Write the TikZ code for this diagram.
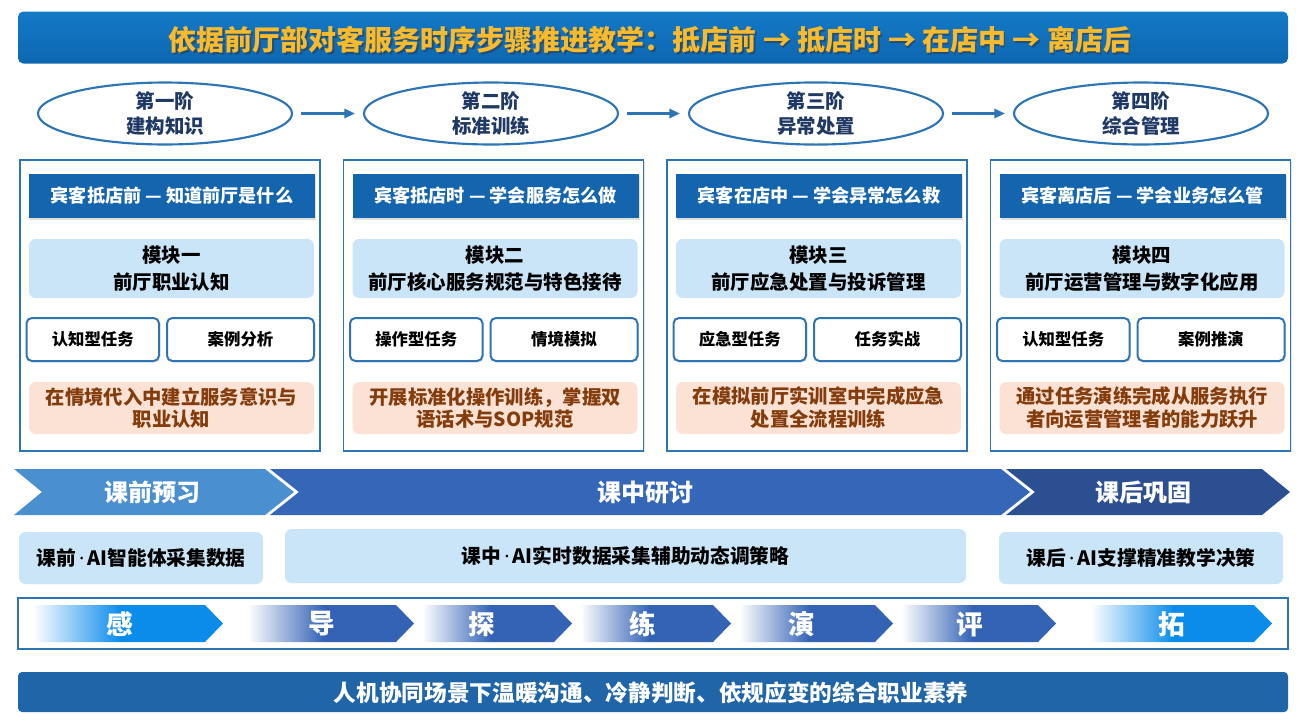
\documentclass[tikz,border=0pt]{standalone}
\usepackage{fontspec}
\setmainfont{Noto Sans CJK SC}
\newfontfamily\latf{Noto Sans}
\usetikzlibrary{shapes.geometric,arrows.meta,shadows}
\definecolor{titletop}{HTML}{1479C6}
\definecolor{titlebot}{HTML}{0D67B0}
\definecolor{titlefg}{HTML}{F9BA2C}
\definecolor{titleshadow}{HTML}{2A3A55}
\definecolor{ellblue}{HTML}{2E75B6}
\definecolor{navy}{HTML}{1F3864}
\definecolor{hdrblue}{HTML}{1464AE}
\definecolor{lightblue}{HTML}{C9E5F7}
\definecolor{salmon}{HTML}{FBE2D5}
\definecolor{browntxt}{HTML}{843C0C}
\definecolor{chevA}{HTML}{4A8FD0}
\definecolor{chevB}{HTML}{3566B8}
\definecolor{chevC}{HTML}{2C4F91}
\definecolor{azure}{HTML}{0B8CEB}
\definecolor{royal}{HTML}{3463B6}
\definecolor{bottombg}{HTML}{1F65A8}
\pgfdeclarehorizontalshading{fadeaz}{100bp}{color(0bp)=(white); color(27bp)=(white); color(49bp)=(azure); color(100bp)=(azure)}
\pgfdeclarehorizontalshading{faderoyal}{100bp}{color(0bp)=(white); color(27bp)=(white); color(49bp)=(royal); color(100bp)=(royal)}
\newcommand\pxu{0.75pt}
\newcommand\mdot{{\latf\bfseries\,·\,}}
\tikzset{
  ell/.style={ellipse, draw=ellblue, line width=1.6pt, fill=white, minimum width=254*\pxu, minimum height=59*\pxu, inner sep=0pt, text=navy, align=center, font=\bfseries\fontsize{14.6}{18.8}\selectfont},
  flowarr/.style={draw=ellblue, line width=1.6pt, -{Triangle[length=8pt,width=7pt]}, shorten <=6pt, shorten >=6pt},
  panelbox/.style={draw=ellblue, line width=1.1pt, fill=white, inner sep=0pt, drop shadow={shadow xshift=1pt,shadow yshift=-1pt,opacity=0.2}},
  hdr/.style={fill=hdrblue, text=white, inner sep=0pt, drop shadow={shadow xshift=1pt,shadow yshift=-1.5pt,opacity=0.25}, font=\bfseries\fontsize{13.6}{15}\selectfont},
  modbox/.style={fill=lightblue, rounded corners=5pt, inner sep=0pt, align=center, text=black, font=\bfseries\fontsize{14.6}{20}\selectfont},
  taskbox/.style={draw=ellblue, line width=1.5pt, fill=white, rounded corners=4pt, inner sep=0pt, text=black, drop shadow={shadow xshift=1pt,shadow yshift=-1pt,opacity=0.2}, font=\bfseries\fontsize{12.3}{15}\selectfont},
  goalbox/.style={fill=salmon, rounded corners=5pt, inner sep=0pt, text=browntxt, align=center, font=\bfseries\fontsize{14.5}{17.2}\selectfont},
  bandtxt/.style={text=white, inner sep=0pt, font=\bfseries\fontsize{18}{20}\selectfont},
  aibox/.style={fill=lightblue, rounded corners=5pt, inner sep=0pt, text=black, font=\bfseries\fontsize{14.8}{17}\selectfont},
  proctxt/.style={text=white, inner sep=0pt, font=\bfseries\fontsize{20}{22}\selectfont},
  titlestyle/.style={inner sep=0pt, font=\bfseries\fontsize{21}{24}\selectfont},
}
\newcommand\fpanel[9]{%
  \node[panelbox, minimum width=300*\pxu, minimum height=291*\pxu] (#1) at (#2+150,305.5) {};
  \node[hdr, minimum width=286*\pxu, minimum height=44*\pxu] (#1h) at (#2+152,196) {#3};
  \node[modbox, minimum width=285*\pxu, minimum height=59*\pxu] (#1m) at (#2+151.5,268.5) {#4\\#5};
  \node[taskbox, minimum width=132.5*\pxu, minimum height=43*\pxu] (#1a) at (#2+72.75,339.5) {#6};
  \node[taskbox, minimum width=147*\pxu, minimum height=43*\pxu] (#1b) at (#2+220.5,339.5) {#7};
  \node[goalbox, minimum width=285*\pxu, minimum height=52*\pxu] (#1s) at (#2+151.5,408) {#8\\#9};
}
\newcommand\chevshape[3]{%
  \shade[shading=#3] (#1,605) -- (#2-18,605) -- (#2,623.5) -- (#2-18,642) -- (#1,642) -- cycle;
}
\begin{document}
\begin{tikzpicture}[x=0.75pt,y=-0.75pt]
\useasboundingbox (0,0) rectangle (1308,722);
\fill[white] (0,0) rectangle (1308,722);

% title
\node[top color=titletop, bottom color=titlebot, rounded corners=4pt, minimum width=1270*\pxu, minimum height=52*\pxu, inner sep=0pt] (title) at (653,37.5) {};
\node[titlestyle, text=titleshadow, opacity=0.6] (titleshd) at (651.5,41.5) {依据前厅部对客服务时序步骤推进教学：抵店前 → 抵店时 → 在店中 → 离店后};
\node[titlestyle, text=titlefg] (titletxt) at (650,40) {依据前厅部对客服务时序步骤推进教学：抵店前 → 抵店时 → 在店中 → 离店后};

% stages
\node[ell] (e1) at (165,113.5) {第一阶\\建构知识};
\node[ell] (e2) at (491,113.5) {第二阶\\标准训练};
\node[ell] (e3) at (816,113.5) {第三阶\\异常处置};
\node[ell] (e4) at (1141,113.5) {第四阶\\综合管理};
\draw[flowarr] (e1) -- (e2);
\draw[flowarr] (e2) -- (e3);
\draw[flowarr] (e3) -- (e4);

% panels
\fpanel{p1}{20}{宾客抵店前 — 知道前厅是什么}{模块一}{前厅职业认知}{认知型任务}{案例分析}{在情境代入中建立服务意识与}{职业认知}
\fpanel{p2}{343.5}{宾客抵店时 — 学会服务怎么做}{模块二}{前厅核心服务规范与特色接待}{操作型任务}{情境模拟}{开展标准化操作训练，掌握双}{语话术与SOP规范}
\fpanel{p3}{667}{宾客在店中 — 学会异常怎么救}{模块三}{前厅应急处置与投诉管理}{应急型任务}{任务实战}{在模拟前厅实训室中完成应急}{处置全流程训练}
\fpanel{p4}{990.5}{宾客离店后 — 学会业务怎么管}{模块四}{前厅运营管理与数字化应用}{认知型任务}{案例推演}{通过任务演练完成从服务执行}{者向运营管理者的能力跃升}

% class phases band
\fill[chevA] (14,469) -- (265,469) -- (294,492) -- (265,515) -- (14,515) -- (42,492) -- cycle;
\fill[chevB] (270,469) -- (1001,469) -- (1030,492) -- (1001,515) -- (270,515) -- (299,492) -- cycle;
\fill[chevC] (1006,469) -- (1262,469) -- (1290,492) -- (1262,515) -- (1006,515) -- (1035,492) -- cycle;
\node[bandtxt] (b1) at (152,492) {课前预习};
\node[bandtxt] (b2) at (645,492) {课中研讨};
\node[bandtxt] (b3) at (1143,492) {课后巩固};

% AI boxes
\node[aibox, minimum width=244*\pxu, minimum height=52*\pxu] (ai1) at (141,558) {课前\mdot AI智能体采集数据};
\node[aibox, minimum width=681*\pxu, minimum height=54*\pxu] (ai2) at (625.5,556) {课中\mdot AI实时数据采集辅助动态调策略};
\node[aibox, minimum width=284*\pxu, minimum height=52*\pxu] (ai3) at (1141,558) {课后\mdot AI支撑精准教学决策};

% process band
\node[draw=ellblue, line width=0.8pt, fill=white, minimum width=1270*\pxu, minimum height=51*\pxu, inner sep=0pt] (band) at (653,623.5) {};
\chevshape{25}{223}{fadeaz}
\chevshape{241}{414}{faderoyal}
\chevshape{416}{572}{faderoyal}
\chevshape{574}{731}{faderoyal}
\chevshape{733}{893}{faderoyal}
\chevshape{895}{1056}{faderoyal}
\chevshape{1083}{1272}{fadeaz}
\node[proctxt] (s1) at (120,624) {感};
\node[proctxt] (s2) at (322,624) {导};
\node[proctxt] (s3) at (482,624) {探};
\node[proctxt] (s4) at (643,624) {练};
\node[proctxt] (s5) at (802,624) {演};
\node[proctxt] (s6) at (970,624) {评};
\node[proctxt] (s7) at (1172,624) {拓};

% bottom bar
\node[fill=bottombg, rounded corners=3pt, minimum width=1270*\pxu, minimum height=40*\pxu, inner sep=0pt] (bot) at (653,692) {};
\node[text=white, inner sep=0pt, font=\bfseries\fontsize{17}{20}\selectfont] (bottxt) at (651,693) {人机协同场景下温暖沟通、冷静判断、依规应变的综合职业素养};
\end{tikzpicture}
\end{document}
